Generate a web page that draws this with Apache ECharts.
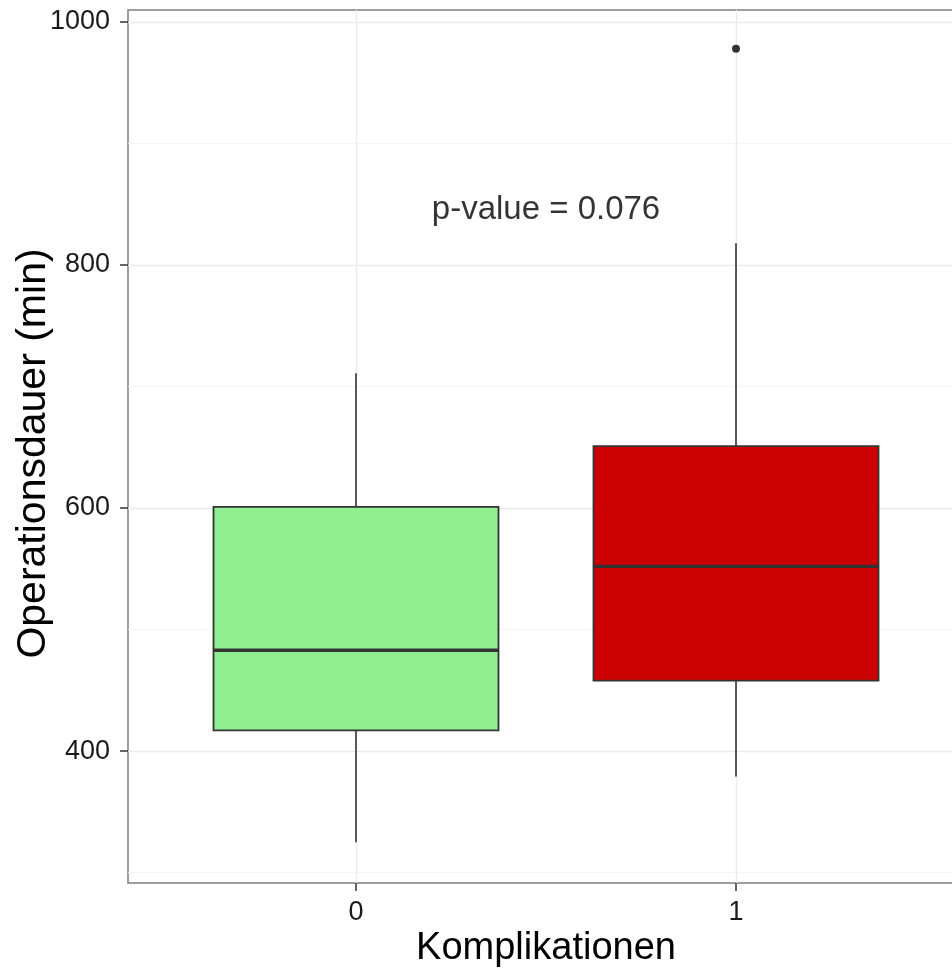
<!DOCTYPE html>
<html>
<head>
<meta charset="utf-8">
<script src="https://cdn.jsdelivr.net/npm/echarts@6/dist/echarts.min.js"></script>
<style>
  html, body { margin: 0; padding: 0; background: #ffffff; }
  #chart { width: 952px; height: 969px; }
</style>
</head>
<body>
<div id="chart"></div>
<script>
// ---- data ----
var categories = ['0', '1'];
var categoryPositions = [0, 1];
var lowWhisker = [325, 379];
var q1 = [417, 458];
var median = [483, 552];
var q3 = [601, 651];
var highWhisker = [711, 818];
var outliers = [[1, 978]];
var yTickValues = [400, 600, 800, 1000];
var yMinorValues = [300, 500, 700, 900];
var annotationText = 'p-value = 0.076';
var annotationPos = [0.5, 845.5];

// ---- style ----
var boxFills = ['#90ee90', '#cc0000'];
var FONT = "'Liberation Sans', Arial, sans-serif";

var boxData = categoryPositions.map(function (x, i) {
  return [x, lowWhisker[i], q1[i], median[i], q3[i], highWhisker[i]];
});

var gridLineData = [];
yMinorValues.forEach(function (v) {
  gridLineData.push({ yAxis: v, lineStyle: { color: '#f2f2f2', width: 0.8, type: 'solid' } });
});
yTickValues.forEach(function (v) {
  gridLineData.push({ yAxis: v, lineStyle: { color: '#ebebeb', width: 1.4, type: 'solid' } });
});
categoryPositions.forEach(function (v) {
  gridLineData.push({ xAxis: v, lineStyle: { color: '#ebebeb', width: 1.4, type: 'solid' } });
});

var chart = echarts.init(document.getElementById('chart'), null, { renderer: 'canvas' });

var option = {
  backgroundColor: '#ffffff',
  animation: false,
  grid: {
    left: 128, top: 10, width: 836, height: 873,
    show: true, borderColor: '#7f7f7f', borderWidth: 1.5, backgroundColor: 'transparent',
    containLabel: false, outerBoundsMode: 'none'
  },
  xAxis: {
    type: 'value', min: -0.6, max: 1.6,
    name: 'Komplikationen', nameLocation: 'middle', nameGap: 47, nameMoveOverlap: false,
    nameTextStyle: { fontFamily: FONT, fontSize: 38, color: '#000000' },
    axisLine: { show: false, onZero: false },
    splitLine: { show: false },
    axisTick: { show: true, length: 8, inside: false, customValues: categoryPositions,
      lineStyle: { color: '#333333', width: 1.5 } },
    axisLabel: { show: true, margin: 16, fontFamily: FONT, fontSize: 27, color: '#1a1a1a',
      customValues: categoryPositions,
      formatter: function (v) { var i = categoryPositions.indexOf(v); return i >= 0 ? categories[i] : ''; } }
  },
  yAxis: {
    type: 'value', min: 291.4, max: 1009.9,
    name: 'Operationsdauer (min)', nameLocation: 'middle', nameGap: 74, nameMoveOverlap: false,
    nameTextStyle: { fontFamily: FONT, fontSize: 41, color: '#000000', padding: [0, 14, 0, 0] },
    axisLine: { show: false, onZero: false },
    splitLine: { show: false },
    axisTick: { show: true, length: 8, customValues: yTickValues,
      lineStyle: { color: '#333333', width: 1.5 } },
    axisLabel: { show: true, margin: 18, fontFamily: FONT, fontSize: 27, color: '#1a1a1a',
      customValues: yTickValues,
      formatter: function (v) { return yTickValues.indexOf(v) >= 0 ? String(v) : ''; } }
  },
  series: [
    {
      type: 'line', data: [], silent: true, z: 0,
      markLine: { silent: true, z: 0, symbol: ['none', 'none'], label: { show: false }, animation: false,
        data: gridLineData }
    },
    {
      type: 'custom', z: 3,
      data: boxData,
      encode: { x: 0, y: [1, 2, 3, 4, 5] },
      renderItem: function (params, api) {
        var idx = params.dataIndex;
        var x = api.value(0);
        var pLow = api.coord([x, api.value(1)]);
        var pQ1 = api.coord([x, api.value(2)]);
        var pMed = api.coord([x, api.value(3)]);
        var pQ3 = api.coord([x, api.value(4)]);
        var pHigh = api.coord([x, api.value(5)]);
        var halfW = api.size([0.75, 0])[0] / 2;
        var cx = pMed[0];
        var stroke = '#333333';
        return {
          type: 'group',
          children: [
            { type: 'line', shape: { x1: cx, y1: pHigh[1], x2: cx, y2: pQ3[1] },
              style: { stroke: stroke, lineWidth: 1.6 } },
            { type: 'line', shape: { x1: cx, y1: pQ1[1], x2: cx, y2: pLow[1] },
              style: { stroke: stroke, lineWidth: 1.6 } },
            { type: 'rect', shape: { x: cx - halfW, y: pQ3[1], width: halfW * 2, height: pQ1[1] - pQ3[1] },
              style: { fill: boxFills[idx], stroke: stroke, lineWidth: 1.8 } },
            { type: 'line', shape: { x1: cx - halfW, y1: pMed[1], x2: cx + halfW, y2: pMed[1] },
              style: { stroke: stroke, lineWidth: 3.4 } }
          ]
        };
      }
    },
    {
      type: 'scatter', z: 4, data: outliers, symbol: 'circle', symbolSize: 8,
      itemStyle: { color: '#000000' }, silent: true
    },
    {
      type: 'scatter', z: 5, data: [annotationPos], symbolSize: 0, silent: true,
      label: { show: true, position: 'inside', formatter: annotationText,
        fontFamily: FONT, fontSize: 33, color: '#000000' }
    }
  ]
};
chart.setOption(option);
</script>
</body>
</html>
